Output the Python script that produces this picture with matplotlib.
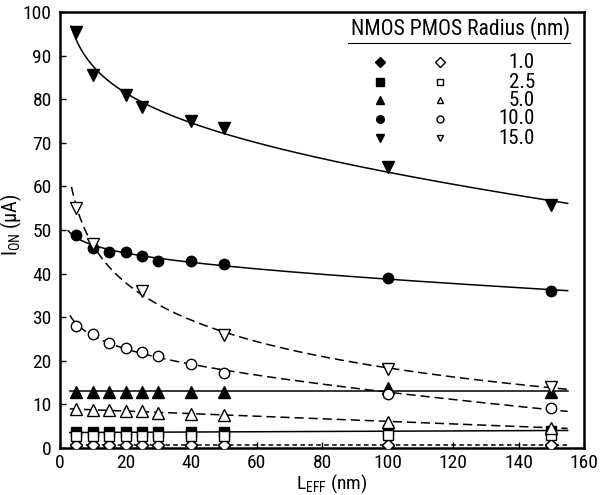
import numpy as np
import matplotlib
matplotlib.use("Agg")
import matplotlib.pyplot as plt
from matplotlib.lines import Line2D

FAMILY = ['Liberation Sans Narrow', 'Roboto Condensed', 'Archivo Narrow', 'Liberation Sans', 'DejaVu Sans']
plt.rcParams['font.family'] = FAMILY

# Gate length sweep (nm)
x_all = [5, 10, 15, 20, 25, 30, 40, 50, 100, 150]
x_n15 = [5, 10, 20, 25, 40, 50, 100, 150]
x_p15 = [5, 10, 25, 50, 100, 150]

# On-current (uA) per radius
nmos_1p0 = [0.8, 0.8, 0.8, 0.8, 0.8, 0.8, 0.8, 0.8, 0.8, 0.8]
pmos_1p0 = [0.8, 0.8, 0.8, 0.8, 0.8, 0.8, 0.8, 0.8, 0.8, 0.8]
nmos_2p5 = [3.6, 3.6, 3.6, 3.6, 3.6, 3.6, 3.6, 3.6, 4.1, 3.9]
pmos_2p5 = [2.7, 2.7, 2.7, 2.7, 2.7, 2.7, 2.7, 2.7, 2.9, 2.9]
nmos_5p0 = [12.9, 12.9, 12.9, 12.9, 12.9, 12.9, 12.9, 12.9, 13.8, 12.9]
pmos_5p0 = [8.9, 8.7, 8.7, 8.5, 8.4, 8.1, 7.9, 7.6, 6.0, 4.7]
nmos_10 = [48.9, 45.9, 45.0, 45.0, 44.1, 43.0, 43.0, 42.1, 39.1, 36.0]
pmos_10 = [28.0, 26.1, 24.0, 23.0, 22.1, 21.2, 19.2, 17.1, 12.3, 9.2]
nmos_15 = [95.4, 85.5, 81.0, 78.2, 75.0, 73.4, 64.5, 55.7]
pmos_15 = [55.0, 46.9, 36.0, 25.9, 18.1, 14.1]

radius_labels = ["1.0", "2.5", "5.0", "10.0", "15.0"]
legend_markers = ["D", "s", "^", "o", "v"]

W, H = 603, 495
fig = plt.figure(figsize=(W / 100, H / 100), dpi=100)
ax = fig.add_axes([60 / W, 1 - 448 / H, (584 - 60) / W, (448 - 12) / H])


def trend(x, y, kind, x0=3.0, x1=155.0):
    x = np.asarray(x, float)
    y = np.asarray(y, float)
    xs = np.linspace(x0, x1, 400)
    if kind == 'flat':
        return xs, np.full_like(xs, y.mean())
    if kind == 'linear':
        c = np.polyfit(x, y, 1)
        return xs, np.polyval(c, xs)
    # least squares on a + b*x + c*ln(x)
    A = np.column_stack([np.ones_like(x), x, np.log(x)])
    coef, *_ = np.linalg.lstsq(A, y, rcond=None)
    As = np.column_stack([np.ones_like(xs), xs, np.log(xs)])
    return xs, As @ coef


lw = 1.1
long_dash = (0, (6.0, 3.2))
short_dash = (0, (3.0, 2.2))

# fitted trends
for x, y, kind, ls, x0 in [
    (x_n15, nmos_15, 'loglin', '-', 3.4),
    (x_all, nmos_10, 'loglin', '-', 2.5),
    (x_all, nmos_5p0, 'flat', '-', 3.0),
    (x_all, nmos_2p5, 'linear', '-', 3.0),
    (x_p15, pmos_15, 'loglin', long_dash, 3.5),
    (x_all, pmos_10, 'loglin', long_dash, 3.0),
    (x_all, pmos_5p0, 'loglin', long_dash, 3.0),
    (x_all, pmos_1p0, 'flat', short_dash, 3.0),
]:
    xs, ys = trend(x, y, kind, x0=x0)
    ax.plot(xs, ys, color='black', lw=lw, linestyle=ls, zorder=2)

filled = dict(color='black', linestyle='none', zorder=3)
hollow = dict(markerfacecolor='white', markeredgecolor='black', markeredgewidth=1.0,
              linestyle='none', zorder=4)

# NMOS (filled) then PMOS (open) markers
ax.plot(x_all, nmos_1p0, marker='D', ms=6, **filled)
ax.plot(x_all, nmos_2p5, marker='s', ms=7, **filled)
ax.plot(x_all, nmos_5p0, marker='^', ms=8, **filled)
ax.plot(x_all, nmos_10, marker='o', ms=7.5, **filled)
ax.plot(x_n15, nmos_15, marker='v', ms=8, **filled)

ax.plot(x_all, pmos_1p0, marker='D', ms=6, **hollow)
ax.plot(x_all, pmos_2p5, marker='s', ms=7, **hollow)
ax.plot(x_all, pmos_5p0, marker='^', ms=8, **hollow)
ax.plot(x_all, pmos_10, marker='o', ms=7.5, **hollow)
ax.plot(x_p15, pmos_15, marker='v', ms=8, **hollow)

ax.set_xlim(0, 160)
ax.set_ylim(0, 100)
ax.set_xticks(np.arange(0, 161, 20))
ax.set_yticks(np.arange(0, 101, 10))
ax.tick_params(direction='in', length=4, width=1.0, labelsize=14, pad=6)
ax.tick_params(axis='x', pad=4)
for s in ax.spines.values():
    s.set_linewidth(1.8)

ax.set_xlabel(r'$\mathregular{L_{EFF}}$ (nm)', fontsize=14)
ax.set_ylabel(r'$\mathregular{I_{ON}}$ (μA)', fontsize=14.5)
ax.xaxis.set_label_coords(0.519, -0.057)
ax.yaxis.set_label_coords(-0.068, 0.511)

# legend table
fig.text(570 / W, 1 - 35 / H, "NMOS PMOS Radius (nm)", ha='right', va='baseline', fontsize=15.6)
fig.add_artist(Line2D([348 / W, 570 / W], [1 - 43 / H, 1 - 43 / H],
                      transform=fig.transFigure, color='black', lw=0.8))
rows_y = [62, 82, 100, 119, 138]
for ry, m, lab in zip(rows_y, legend_markers, radius_labels):
    fy = 1 - ry / H
    fig.add_artist(Line2D([380 / W], [fy], transform=fig.transFigure, marker=m,
                          ms=5.5, color='black', linestyle='none'))
    fig.add_artist(Line2D([440 / W], [fy], transform=fig.transFigure, marker=m,
                          ms=5, markerfacecolor='white', markeredgecolor='black',
                          markeredgewidth=1.0, linestyle='none'))
    fig.text(535 / W, fy, lab, ha='right', va='center', fontsize=15)

fig.savefig("out.png", dpi=100)
